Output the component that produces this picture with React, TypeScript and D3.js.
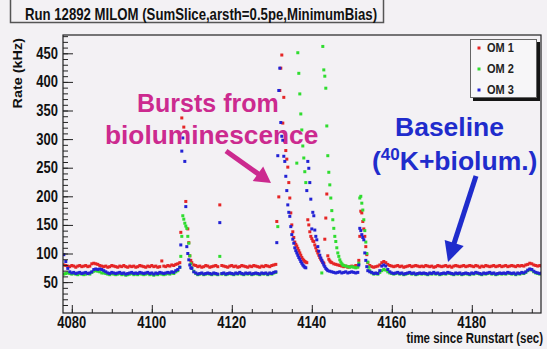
import { useEffect, useRef } from 'react'
import * as d3 from 'd3'

type Pt = [number, number]

// baseline rates (kHz), one value every 0.5 s from 4078 s; null = inside a burst
const baseStart = 4078
const baseStep = 0.5

const om1Base: (number | null)[] = [
  80, 79, 78, 77, 79, 78, 76, 78, 79, 77, 78, 79, 77, 78, 82, 83, 82, 81, 79, 78,
  77, 78, 76, 77, 79, 78, 77, 76, 78, 77, 79, 77, 76, 78, 77, 78, 76, 77, 79, 78,
  77, 76, 78, 77, 79, 77, 78, 76, 77, 87, 78, 77, 79, 78, 80, 79, 81, 82, null, null,
  null, null, null, null, 84, 80, 79, 77, 78, 76, 77, 79, 78, 76, 77, 78, 79, 77, null, 79,
  78, 77, 76, 78, 79, 77, 78, 76, 77, 79, 78, 77, 76, 78, 77, 79, 78, 77, 76, 78,
  77, 79, 78, 77, 79, 80, 81, null, null, null, null, null, null, null, null, null, null, null, null, null,
  null, null, null, null, null, null, null, null, null, null, null, null, null, null, null, null, null, 80, 79, 78,
  77, 78, 76, 77, 78, 77, 79, 78, null, null, null, null, 84, 79, 77, 76, 77, 78, 80, 84,
  86, 84, 81, 79, 78, 77, 78, 79, 77, 78, 76, 77, 78, 79, 77, 78, 79, 78, 77, 78,
  77, 79, 78, 77, 78, 76, 77, 79, 78, 77, 78, 79, 77, 78, 76, 78, 79, 78, 77, 78,
  79, 77, 78, 79, 78, 77, 79, 78, 76, 78, 77, 79, 78, 77, 78, 79, 77, 78, 79, 77,
  78, 79, 77, 78, 79, 78, 77, 79, 78, 79, 78, 80, 81, 83, 82, 80, 79, 78, 79, 78,
]

const om2Base: (number | null)[] = [
  64, 65, 66, 65, 64, 65, 64, 63, 65, 64, 63, 64, 65, 64, 67, 69, 70, 69, 68, 66,
  66, 65, 64, 63, 65, 64, 63, 64, 65, 63, 64, 62, 63, 64, 65, 63, 64, 63, 65, 64,
  63, 64, 65, 63, 64, 62, 64, 63, 65, 64, 63, 64, 65, 64, 66, 65, 68, 70, null, null,
  null, null, null, null, 75, 69, 65, 63, 64, 65, 63, 64, 65, 64, 63, 65, 64, 63, null, 64,
  65, 63, 64, 65, 64, 63, 65, 64, 66, 64, 63, 65, 64, 65, 63, 64, 65, 64, 63, 65,
  64, 65, 63, 65, 64, 66, 67, null, null, null, null, null, null, null, null, null, null, null, null, null,
  null, null, null, null, null, null, null, null, null, null, null, null, null, null, null, null, null, null, null, null,
  79, 78, 77, 76, 77, 76, 75, 76, null, null, null, null, null, 70, 66, 64, 65, 64, 67, 70,
  72, 71, 68, 66, 65, 64, 65, 66, 64, 65, 63, 64, 65, 66, 64, 65, 63, 64, 65, 64,
  65, 64, 63, 65, 64, 66, 64, 65, 63, 64, 65, 64, 66, 65, 64, 63, 65, 64, 65, 63,
  64, 65, 64, 63, 65, 64, 66, 65, 64, 63, 65, 64, 65, 66, 64, 65, 63, 64, 65, 64,
  65, 64, 66, 65, 64, 65, 63, 65, 64, 66, 65, 67, 70, 72, 71, 68, 66, 65, 64, 65,
]

const om3Base: (number | null)[] = [
  98, 86, 74, 68, 66, 67, 65, 66, 67, 65, 66, 67, 65, 66, 68, 72, 73, 72, 73, 72,
  70, 68, 66, 65, 67, 66, 65, 66, 67, 65, 66, 64, 65, 66, 67, 65, 66, 65, 67, 66,
  65, 66, 67, 65, 66, 64, 66, 65, 67, 66, 65, 66, 67, 66, 68, 67, 70, 72, null, null,
  null, null, null, null, 74, 68, 66, 64, 65, 66, 64, 65, 66, 65, 64, 66, 65, 64, null, 65,
  66, 64, 65, 66, 65, 64, 66, 65, 67, 65, 64, 66, 65, 66, 64, 65, 66, 65, 64, 66,
  65, 66, 64, 66, 65, 67, 68, null, null, null, null, null, null, null, null, null, null, null, null, null,
  null, null, null, null, null, null, null, null, null, null, null, null, null, 69, 68, 67, 66, 67, 68, 66,
  67, 68, 66, 67, 68, 67, 66, 67, null, null, null, null, 70, 68, 67, 65, 66, 65, 70, 78,
  80, 78, 72, 68, 66, 65, 66, 67, 65, 66, 64, 65, 66, 67, 65, 66, 64, 65, 66, 65,
  66, 65, 64, 66, 65, 67, 65, 66, 64, 65, 66, 65, 67, 66, 65, 64, 66, 65, 66, 64,
  65, 66, 65, 64, 66, 65, 67, 66, 65, 64, 66, 65, 66, 67, 65, 66, 64, 65, 66, 65,
  66, 65, 67, 66, 65, 66, 64, 66, 65, 67, 66, 68, 71, 73, 72, 69, 67, 66, 65, 66,
]

// burst samples [time (s), rate (kHz)]
const om1Bursts: Pt[] = [
  [4107, 84], [4107.25, 137], [4107.5, 337], [4108, 321], [4108.5, 191], [4109, 143], [4109.25, 119], [4109.5, 96], [4109.75, 88],
  [4117, 185],
  [4131.25, 156], [4131.75, 199], [4132, 385], [4132.25, 424], [4132.5, 447], [4132.75, 328], [4133, 373], [4133.25, 296],
  [4133.5, 280], [4133.75, 265], [4134, 251], [4134.25, 224], [4134.5, 197], [4134.75, 171], [4135, 150], [4135.25, 138],
  [4135.5, 128], [4135.75, 120], [4136, 116], [4136.25, 113], [4136.5, 109], [4136.75, 105], [4137, 101], [4137.25, 97],
  [4137.5, 93], [4137.75, 90], [4138, 88], [4138.25, 86], [4138.5, 85], [4138.75, 84],
  [4139, 159], [4139.25, 150], [4139.5, 138], [4139.75, 130], [4140, 126], [4140.25, 122], [4140.5, 121], [4140.75, 115],
  [4141, 110], [4141.25, 105], [4141.5, 101], [4141.75, 97], [4142, 93], [4142.25, 90], [4142.5, 87], [4142.75, 85],
  [4143, 83], [4143.25, 125], [4143.5, 162], [4143.75, 204], [4144, 96], [4144.25, 90], [4144.5, 87], [4144.75, 85],
  [4145, 84], [4145.5, 82], [4146, 81],
  [4151.75, 88], [4152, 130], [4152.25, 174], [4152.5, 171], [4152.75, 156], [4153, 143], [4153.25, 130], [4153.5, 112], [4153.75, 98],
]

const om2Bursts: Pt[] = [
  [4107, 76], [4107.25, 95], [4107.5, 130], [4107.75, 166], [4108, 160], [4108.25, 153], [4108.5, 148], [4108.75, 144],
  [4109, 130], [4109.25, 118], [4109.5, 96], [4109.75, 82],
  [4117, 95],
  [4131.5, 147],
  [4136.25, 258], [4136.5, 451], [4136.75, 415], [4137, 379], [4137.25, 344], [4137.5, 316], [4137.75, 288], [4138, 267],
  [4138.25, 243], [4138.5, 224],
  [4142.5, 66], [4142.75, 462], [4143, 421], [4143.25, 410], [4143.5, 389], [4143.75, 323], [4144, 271], [4144.25, 242],
  [4144.5, 220], [4144.75, 197], [4145, 175], [4145.25, 159], [4145.5, 144], [4145.75, 130], [4146, 121], [4146.25, 110],
  [4146.5, 101], [4146.75, 95], [4147, 89], [4147.25, 85], [4147.5, 82], [4147.75, 80],
  [4151.75, 83], [4152, 197], [4152.25, 200], [4152.5, 188], [4152.75, 176], [4153, 159], [4153.25, 140], [4153.5, 120],
  [4153.75, 100], [4154, 85], [4154.25, 76],
]

const om3Bursts: Pt[] = [
  [4107, 76], [4107.25, 115], [4107.5, 279], [4107.75, 302], [4108.25, 261], [4108.5, 182], [4108.75, 112], [4109, 100],
  [4109.25, 89], [4109.5, 80], [4109.75, 75],
  [4117, 154],
  [4131.25, 119], [4131.5, 271], [4131.75, 385], [4132, 424], [4132.25, 329], [4132.5, 305], [4132.75, 298], [4133, 270],
  [4133.25, 261], [4133.5, 235], [4133.75, 210], [4134, 185], [4134.25, 172], [4134.5, 165], [4134.75, 147], [4135, 133],
  [4135.25, 125], [4135.5, 118], [4135.75, 110], [4136, 105], [4136.25, 101], [4136.5, 97], [4136.75, 93], [4137, 90],
  [4137.25, 86], [4137.5, 83], [4137.75, 80], [4138, 78], [4138.25, 76], [4138.5, 75],
  [4138.75, 210], [4139, 261], [4139.25, 249], [4139.5, 224], [4139.75, 195], [4140, 143], [4140.25, 172], [4140.5, 166],
  [4140.75, 141], [4141, 130], [4141.25, 124], [4141.5, 112], [4141.75, 104], [4142, 97], [4142.25, 92], [4142.5, 88],
  [4142.75, 84], [4143, 80], [4143.25, 77], [4143.5, 74], [4143.75, 72], [4144, 70],
  [4151.75, 80], [4152, 144], [4152.25, 140], [4152.5, 133], [4152.75, 128], [4153, 124], [4153.25, 101], [4153.5, 88], [4153.75, 77],
]

const xMajor = [4080, 4100, 4120, 4140, 4160, 4180]
const yMajor = [50, 100, 150, 200, 250, 300, 350, 400, 450]

const series = [
  { label: 'OM 1', color: '#e52525', base: om1Base, bursts: om1Bursts },
  { label: 'OM 2', color: '#2fdc2f', base: om2Base, bursts: om2Bursts },
  { label: 'OM 3', color: '#2222d4', base: om3Base, bursts: om3Bursts },
]

const W = 547
const H = 349
const bg = '#f3f1f4'
const font = "'Liberation Sans', Arial, sans-serif"

export default function App() {
  const svgRef = useRef<SVGSVGElement>(null)

  useEffect(() => {
    if (!svgRef.current) return
    const frame = { left: 63, top: 35, right: 541, bottom: 313 }

    const svg = d3.select(svgRef.current)
    svg.selectAll('*').remove()

    const x = d3.scaleLinear().domain([4077.8, 4197.3]).range([frame.left, frame.right])
    const y = d3.scaleLinear().domain([-4, 482]).range([frame.bottom, frame.top])

    svg.append('rect').attr('width', W).attr('height', H).attr('fill', bg)

    // text squeezed the way the plot image is (taller than wide)
    const label = (tx: number, ty: number, str: string, size: number, anchor = 'start', extra = '') =>
      svg.append('text')
        .attr('transform', `translate(${tx},${ty}) scale(1,1.2)${extra}`)
        .attr('font-family', font)
        .attr('font-size', size)
        .attr('font-weight', 'bold')
        .attr('fill', '#111')
        .attr('text-anchor', anchor)
        .text(str)

    // title pave
    svg.append('rect')
      .attr('x', 10.5).attr('y', -3).attr('width', 373).attr('height', 25.5)
      .attr('fill', bg).attr('stroke', '#555').attr('stroke-width', 1.5)
    label(25, 20, 'Run 12892 MILOM (SumSlice,arsth=0.5pe,MinimumBias)', 13.2)

    // points
    svg.append('clipPath').attr('id', 'plot-clip')
      .append('rect')
      .attr('x', frame.left).attr('y', frame.top)
      .attr('width', frame.right - frame.left).attr('height', frame.bottom - frame.top)

    const pts = svg.append('g').attr('clip-path', 'url(#plot-clip)')
    series.forEach(s => {
      const data: Pt[] = s.base
        .map((v, i) => [baseStart + i * baseStep, v] as [number, number | null])
        .filter((d): d is Pt => d[1] !== null)
        .concat(s.bursts)
      pts.append('g')
        .selectAll('rect')
        .data(data)
        .join('rect')
        .attr('x', d => x(d[0]) - 1.5)
        .attr('y', d => y(d[1]) - 1.5)
        .attr('width', 3)
        .attr('height', 3)
        .attr('fill', s.color)
    })

    // frame + ticks (ROOT style, inside)
    svg.append('rect')
      .attr('x', frame.left).attr('y', frame.top)
      .attr('width', frame.right - frame.left).attr('height', frame.bottom - frame.top)
      .attr('fill', 'none').attr('stroke', '#222').attr('stroke-width', 1.2)

    const gx = svg.append('g').attr('transform', `translate(0,${frame.bottom})`).style('color', '#222')
    gx.append('g').call(d3.axisBottom(x).tickValues(d3.range(4080, 4197, 5)).tickSize(-4).tickSizeOuter(0).tickFormat(() => ''))
    gx.append('g').call(d3.axisBottom(x).tickValues(xMajor).tickSize(-8).tickSizeOuter(0).tickFormat(() => ''))
    gx.selectAll('.domain').remove()

    const gy = svg.append('g').attr('transform', `translate(${frame.left},0)`).style('color', '#222')
    gy.append('g').call(d3.axisLeft(y).tickValues(d3.range(10, 481, 10)).tickSize(-5).tickSizeOuter(0).tickFormat(() => ''))
    gy.append('g').call(d3.axisLeft(y).tickValues(yMajor).tickSize(-10).tickSizeOuter(0).tickFormat(() => ''))
    gy.selectAll('.domain').remove()

    xMajor.forEach(v => label(x(v), 328, String(v), 13, 'middle'))
    yMajor.forEach(v => label(58, y(v) + 5.5, String(v), 13, 'end'))

    label(543, 343, 'time since Runstart (sec)', 11.5, 'end')
    label(22, 38, 'Rate (kHz)', 12, 'end', ' rotate(-90)')

    // legend
    const lg = svg.append('g')
    lg.append('rect').attr('x', 473).attr('y', 42).attr('width', 67).attr('height', 59).attr('fill', '#151515')
    lg.append('rect').attr('x', 470.5).attr('y', 39.5).attr('width', 66).attr('height', 58)
      .attr('fill', '#f7f6f8').attr('stroke', '#666')
    series.forEach((s, i) => {
      const cy = 48 + i * 21
      lg.append('rect').attr('x', 477.5).attr('y', cy - 1.5).attr('width', 3).attr('height', 3).attr('fill', s.color)
      lg.append('text')
        .attr('transform', `translate(487,${cy + 4}) scale(1,1.2)`)
        .attr('font-family', font).attr('font-size', 11).attr('font-weight', 'bold').attr('fill', '#222')
        .text(s.label)
    })

    // annotations
    const arrow = (x1: number, y1: number, x2: number, y2: number, color: string, w: number, hl: number, hw: number) => {
      const len = Math.hypot(x2 - x1, y2 - y1)
      const ux = (x2 - x1) / len
      const uy = (y2 - y1) / len
      const bx = x2 - ux * hl
      const by = y2 - uy * hl
      svg.append('line')
        .attr('x1', x1).attr('y1', y1).attr('x2', bx + ux * 2).attr('y2', by + uy * 2)
        .attr('stroke', color).attr('stroke-width', w)
      svg.append('polygon')
        .attr('points', [[x2, y2], [bx - uy * hw / 2, by + ux * hw / 2], [bx + uy * hw / 2, by - ux * hw / 2]].map(p => p.join(',')).join(' '))
        .attr('fill', color)
    }

    const magenta = '#cc2a8f'
    const blue = '#1f2ccc'
    const note = (tx: number, ty: number, color: string, size: number) =>
      svg.append('text')
        .attr('x', tx).attr('y', ty)
        .attr('font-family', font).attr('font-size', size).attr('font-weight', 'bold')
        .attr('fill', color)

    note(137, 112, magenta, 25).text('Bursts from')
    note(105, 144, magenta, 26.3).text('bioluminescence')
    arrow(226, 151, 271, 183, magenta, 5, 16, 18)

    note(395, 136, blue, 26.5).text('Baseline')
    const t2 = note(372, 170, blue, 26.5)
    t2.append('tspan').text('(')
    t2.append('tspan').attr('font-size', 17).attr('dy', -10).text('40')
    t2.append('tspan').attr('dy', 10).text('K+biolum.)')
    arrow(476, 176, 448, 262, blue, 5, 20, 20)
  }, [])

  return (
    <svg
      ref={svgRef}
      width={W}
      height={H}
      style={{ position: 'fixed', left: 0, top: 0, display: 'block' }}
    />
  )
}
